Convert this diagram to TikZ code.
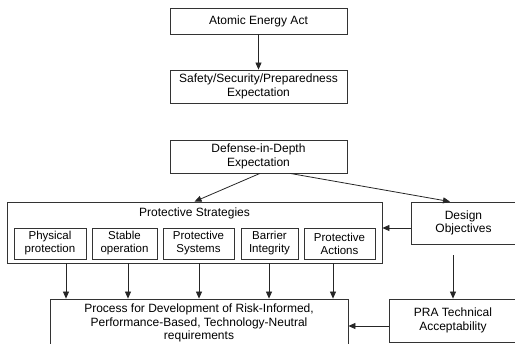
\documentclass[tikz,border=0pt]{standalone}
\usepackage{fontspec}
\setmainfont{Liberation Sans}
\usetikzlibrary{positioning, arrows.meta}

\begin{document}
\begin{tikzpicture}[x=1pt, y=-1pt,
    caja/.style={draw=black!80, line width=0.8pt, align=center, inner sep=1pt, font=\fontsize{12}{13.5}\selectfont},
    cajita/.style={caja, minimum height=31pt, font=\fontsize{11.5}{13}\selectfont},
    flecha/.style={draw=black!85, line width=0.8pt, -{Triangle[length=7pt, width=6pt]}}]
            \useasboundingbox (0,0) rectangle (515,344);
            \clip (0,0) rectangle (515,344);

            % Cajas de arriba
            \node[caja, minimum width=177pt, minimum height=26pt] (act) at (258.5,21) {Atomic Energy Act};
            \node[caja, minimum width=177pt, minimum height=33pt] (safety) at (258.5,86.5) {Safety/Security/Preparedness\\Expectation};
            \node[caja, minimum width=177pt, minimum height=33pt] (defense) at (258.5,156.5) {Defense-in-Depth\\Expectation};

            % Estrategias
            \node[caja, minimum width=375pt, minimum height=61pt] (strat) at (194.5,232.5) {};
            \node[font=\fontsize{12}{13.5}\selectfont, inner sep=1pt, below=5pt of strat.north] (strattitle) {Protective Strategies};
            \node[cajita, minimum width=72pt] (phys) at (50,243.5) {Physical\\protection};
            \node[cajita, minimum width=65pt] (stable) at (124.5,243.5) {Stable\\operation};
            \node[cajita, minimum width=71pt] (systems) at (198.5,243.5) {Protective\\Systems};
            \node[cajita, minimum width=57pt] (barrier) at (269.5,243.5) {Barrier\\Integrity};
            \node[cajita, minimum width=71pt] (actions) at (339.5,243.5) {Protective\\Actions};

            % Cajas de la derecha y de abajo
            \node[caja, minimum width=105pt, minimum height=42pt] (design) at (463.5,223) {Design\\Objectives};
            \node[caja, minimum width=128pt, minimum height=43pt] (pra) at (453,320.5) {PRA Technical\\Acceptability};
            \node[caja, minimum width=298pt, minimum height=48pt] (process) at (199,323) {Process for Development of Risk-Informed,\\Performance-Based, Technology-Neutral\\requirements};

            % Flechas
            \draw[flecha] (act) -- (safety);
            \draw[flecha] ([xshift=1.5pt]defense.south) -- (strat.north);
            \draw[flecha] ([xshift=31.5pt]defense.south) -- ([xshift=-13.5pt]design.north);
            \draw[flecha] ([yshift=-5pt]design.west) -- ([yshift=-5pt]design.west -| strat.east);
            \draw[flecha, shorten <=11pt] ([xshift=-10.5pt]design.south) -- ([xshift=-10.5pt]design.south |- pra.north);
            \draw[flecha] ([yshift=-5.5pt]pra.west) -- ([yshift=-5.5pt]pra.west -| process.east);
            \foreach \dx in {-128.5,-66.5,4.5,74.5,138.5}
                \draw[flecha] ([xshift=\dx pt]strat.south) -- ([xshift=\dx pt]strat.south |- process.north);
        \end{tikzpicture}
\end{document}
